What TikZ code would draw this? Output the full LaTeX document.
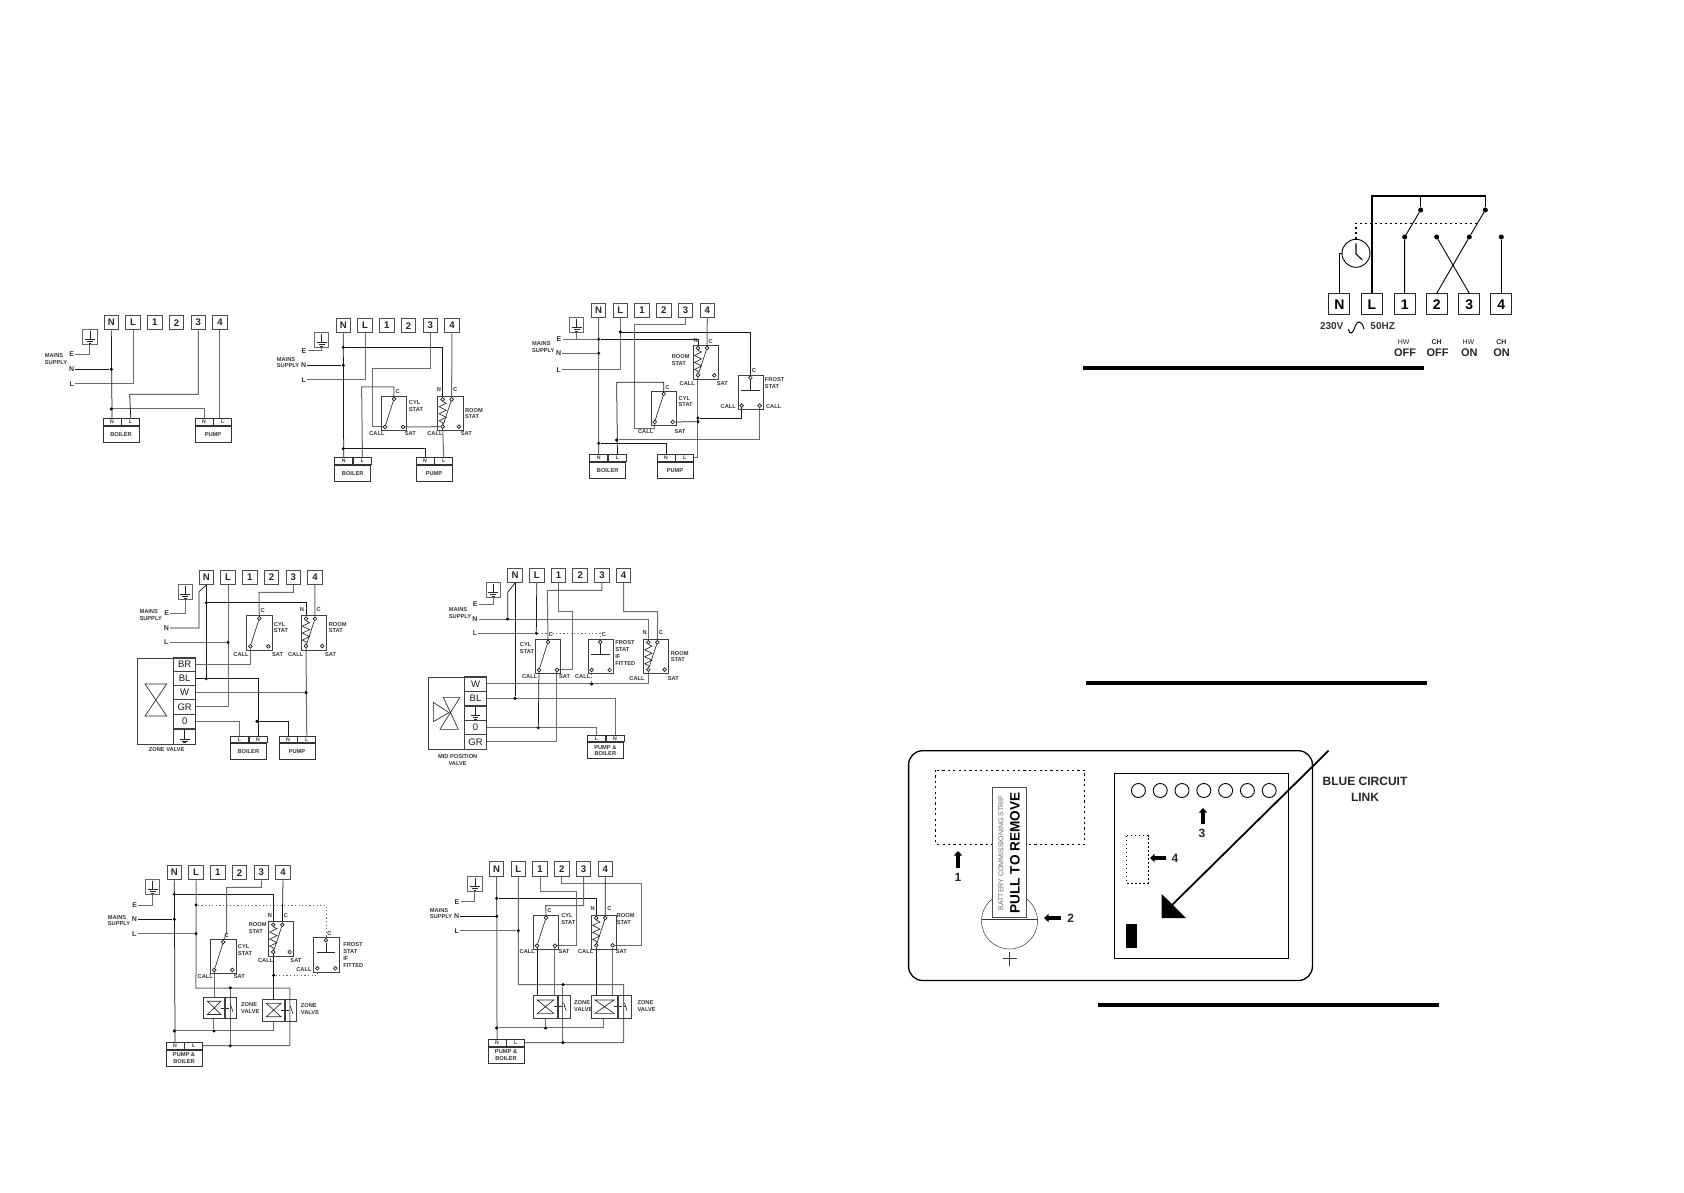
\documentclass[tikz,border=0pt]{standalone}
\usepackage{fontspec}
\setmainfont{Liberation Sans}
\usepackage{tikz}
\usetikzlibrary{arrows.meta,decorations.pathmorphing}
\pgfdeclarelayer{background}
\pgfsetlayers{background,main}
\tikzset{
	termbox/.style={draw=black!70, line width=0.9pt, minimum size=14.5pt, inner sep=0pt,
		font=\fontsize{9.6}{10}\selectfont\bfseries, text=black!85},
	termbig/.style={draw=black!85, line width=1pt, minimum size=21pt, inner sep=0pt,
		font=\fontsize{14}{14}\selectfont\bfseries},
	lab/.style={inner sep=0.5pt, align=left, font=\fontsize{5.7}{6.7}\selectfont\bfseries, text=black!80},
	labm/.style={inner sep=1pt, font=\fontsize{7}{7}\selectfont\bfseries, text=black!80},
	wire/.style={line width=0.75pt, black!90},
	wireg/.style={line width=1pt, black!58},
	wiredot/.style={line width=0.9pt, black!60, dash pattern=on 1.2pt off 2.4pt},
	thinline/.style={line width=0.65pt, black!85},
	dot/.style={circle, fill=black, inner sep=0pt, minimum size=3.4pt},
	contact/.style={circle, draw=black!90, fill=white, line width=0.7pt, inner sep=0pt, minimum size=3.7pt},
	statbox/.style={draw=black!75, line width=0.75pt, anchor=north west, inner sep=0pt,
		minimum width=25.5pt, minimum height=34.2pt},
	cell/.style={draw=black!80, line width=0.75pt, anchor=north west, inner sep=0pt,
		minimum width=18pt, minimum height=6.8pt, font=\fontsize{5.2}{6}\selectfont\bfseries, text=black!80},
	body/.style={cell, minimum width=36pt, minimum height=16pt, align=center,
		font=\fontsize{5.7}{6.7}\selectfont\bfseries},
	vcell/.style={draw=black!75, line width=0.75pt, inner sep=0pt, minimum width=21.7pt, minimum height=14.4pt,
		font=\fontsize{9.5}{9.5}\selectfont, text=black!90},
	fatarrow/.style={line width=3.6pt, -{Triangle[width=8pt,length=4.5pt]}},
	panelnum/.style={inner sep=0pt, font=\fontsize{12}{12}\selectfont\bfseries, text=black!85},
	toptext/.style={inner sep=0pt, font=\fontsize{10}{10}\selectfont\bfseries, text=black!80},
	offon/.style={inner sep=0pt, font=\fontsize{11}{11}\selectfont\bfseries, text=black!85},
	hwch/.style={inner sep=0pt, font=\fontsize{7}{7}\selectfont, text=black!85},
}
\newcommand{\termrow}[3]{%
	\foreach \t [count=\i from 0] in {N,L,1,2,3,4}
		\node[termbox] (#1-\t) at ({#2+\i*65.2},#3) {\t};}
\newcommand{\earthmark}[2]{%
	\draw[thinline] (#1,#2-19) -- (#1,#2+7) (#1-15,#2+7) -- (#1+15,#2+7)
		(#1-9,#2+13) -- (#1+9,#2+13) (#1-4,#2+18) -- (#1+4,#2+18);}
\newcommand{\earthbox}[3]{%
	\node[termbox, draw=black!60] (#1-earth) at (#2,#3) {};
	\earthmark{#2}{#3}}
\newcommand{\cylstat}[3]{%
	\node[statbox] (#1) at (#2,#3) {};
	\node[contact] (#1C) at (#2+39,#3+9) {};
	\node[contact] (#1L) at (#2+12,#3+93) {};
	\node[contact] (#1S) at (#2+66,#3+93) {};
	\draw[thinline] (#1C) -- (#1L);}
\newcommand{\roomstat}[3]{%
	\node[statbox] (#1) at (#2,#3) {};
	\node[contact] (#1N) at (#2+16,#3+10) {};
	\node[contact] (#1C) at (#2+43,#3+10) {};
	\node[contact] (#1L) at (#2+16,#3+92) {};
	\node[contact] (#1S) at (#2+65,#3+92) {};
	\draw[thinline] (#1C) -- (#1L);
	\draw[thinline, decorate, decoration={zigzag,segment length=7pt,amplitude=3.6pt}] (#1N) -- (#1L);}
\newcommand{\froststat}[3]{%
	\node[statbox] (#1) at (#2,#3) {};
	\node[contact] (#1C) at (#2+38,#3+9) {};
	\node[contact] (#1L) at (#2+12,#3+93) {};
	\node[contact] (#1R) at (#2+66,#3+93) {};
	\coordinate (#1T) at (#2+38,#3+46);
	\draw[thinline] (#1C) -- (#1T) (#2+11,#3+46) -- (#2+66,#3+46);}
\newcommand{\loadbox}[6]{%
	\node[cell] (#1-#4) at (#2,#3) {#4};
	\node[cell] (#1-#5) at (#1-#4.north east) {#5};
	\node[body] (#1-body) at (#1-#4.south west) {#6};}
\newcommand{\zonevalve}[6]{%
	\node[statbox, minimum width=#4*0.3333pt, minimum height=#6*0.3333pt] (#1a) at (#2,#3) {};
	\node[statbox, minimum width=#5*0.3333pt, minimum height=#6*0.3333pt] (#1b) at (#1a.north east) {};
	\draw[thinline] (#1a.center) ++({-(#4/2-11)},-20) -- ++({#4-22},0) -- ++({-(#4-22)},40) -- ++({#4-22},0) -- cycle;
	\draw[thinline, densely dashed] (#1a.center) ++({#4/2-11},0) -- (#1b.center);
	\draw[thinline] (#1b.center) ++(-2,-12) -- ++(8,24);}

\begin{document}
\begin{tikzpicture}[x=1pt,y=-1pt]
	\useasboundingbox (0,0) rectangle (1684,1192);

	% boiler and pump, no stats
	\begin{scope}[shift={(30,290)},x=0.3333pt,y=-0.3333pt]
		\termrow{a}{244}{98}
		\earthbox{a}{180}{141}
		\loadbox{aB}{218}{385}{N}{L}{BOILER}
		\loadbox{aP}{494}{385}{N}{L}{PUMP}
		\node[labm] (a-e) at (125,193) {E};
		\node[labm] (a-n) at (125,238) {N};
		\node[labm] (a-l) at (125,281) {L};
		\node[lab] (a-ms) at (78,208) {MAINS\\SUPPLY};
		\node[dot] (ad1) at (244,238) {};
		\node[dot] (ad2) at (244,357) {};
		\coordinate (ak1) at (299,313);
		\begin{pgfonlayer}{background}
			\draw[wireg] (a-e.east) -| (a-earth.south);
			\draw[wire] (a-n.east) -- (ad1);
			\draw[wireg] (a-l.east) -| (a-L.south);
			\draw[wire] (a-N.south) -- (aB-N.north);
			\draw[wireg] (ad2) -| (aP-N.north);
			\draw[wire] (a-3.south) |- (ak1) -- (aB-L.north);
			\draw[wireg] (a-4.south) -- (a-4.south |- aP-L.north);
		\end{pgfonlayer}
	\end{scope}

	% cyl stat and room stat
	\begin{scope}[shift={(30,290)},x=0.3333pt,y=-0.3333pt]
		\termrow{b}{940}{107}
		\earthbox{b}{875}{150}
		\loadbox{bB}{913}{502}{N}{L}{BOILER}
		\loadbox{bP}{1157}{502}{N}{L}{PUMP}
		\cylstat{bc}{1053}{318}
		\roomstat{br}{1222}{318}
		\node[labm] (b-e) at (822,182) {E};
		\node[labm] (b-n) at (821,226) {N};
		\node[labm] (b-l) at (821,269) {L};
		\node[lab] (b-ms) at (774,218) {MAINS\\SUPPLY};
		\node[lab] (b-t1) at (1103,305) {C};
		\node[lab] (b-t2) at (1227,300) {N};
		\node[lab] (b-t3) at (1276,300) {C};
		\node[lab] (b-t4) at (1158,349) {CYL\\STAT};
		\node[lab] (b-t5) at (1332,371) {ROOM\\STAT};
		\node[lab] (b-t6) at (1041,431) {CALL};
		\node[lab] (b-t7) at (1141,431) {SAT};
		\node[lab] (b-t8) at (1215,431) {CALL};
		\node[lab] (b-t9) at (1309,431) {SAT};
		\node[dot] (bd1) at (940,172) {};
		\node[dot] (bd2) at (940,226) {};
		\node[dot] (bd3) at (940,476) {};
		\coordinate (bk1) at (1027,236);
		\coordinate (bk2) at (995,291);
		\begin{pgfonlayer}{background}
			\draw[wireg] (b-e.east) -| (b-earth.south);
			\draw[wire] (b-n.east) -- (bd2);
			\draw[wireg] (b-l.east) -| (b-L.south);
			\draw[wire] (b-N.south) -- (bB-N.north);
			\draw[wire] (bd1) -| (brN);
			\draw[wireg] (b-3.south) |- (bk1) |- (bcL);
			\draw[wireg] (b-4.south) -- (brC);
			\draw[wireg] (bcC) |- (bk2) -- (bB-L.north);
			\draw[wireg] (bcS) -- (brL);
			\draw[wireg] (brL) -- (bP-L.north);
			\draw[wire] (bd3) -| (bP-N.north);
		\end{pgfonlayer}
	\end{scope}

	% cyl, room and frost stat
	\begin{scope}[shift={(510,290)},x=0.3333pt,y=-0.3333pt]
		\termrow{c}{266}{61}
		\earthbox{c}{200}{105}
		\loadbox{cB}{238}{493}{N}{L}{BOILER}
		\loadbox{cP}{440}{493}{N}{L}{PUMP}
		\cylstat{cc}{422}{303}
		\roomstat{cr}{548}{164}
		\froststat{cf}{683}{254}
		\node[labm] (c-e) at (147,148) {E};
		\node[labm] (c-n) at (146,190) {N};
		\node[labm] (c-l) at (146,239) {L};
		\node[lab] (c-ms) at (100,172) {MAINS\\SUPPLY};
		\node[lab] (c-t1) at (557,152) {N};
		\node[lab] (c-t2) at (602,154) {C};
		\node[lab] (c-t3) at (512,210) {ROOM\\STAT};
		\node[lab] (c-t4) at (532,281) {CALL};
		\node[lab] (c-t5) at (637,281) {SAT};
		\node[lab] (c-t6) at (732,243) {C};
		\node[lab] (c-t7) at (794,280) {FROST\\STAT};
		\node[lab] (c-t8) at (655,351) {CALL};
		\node[lab] (c-t9) at (791,351) {CALL};
		\node[lab] (c-t10) at (472,292) {C};
		\node[lab] (c-t11) at (527,335) {CYL\\STAT};
		\node[lab] (c-t12) at (407,426) {CALL};
		\node[lab] (c-t13) at (510,426) {SAT};
		\node[dot] (cd1) at (266,148) {};
		\node[dot] (cd2) at (266,190) {};
		\node[dot] (cd3) at (266,460) {};
		\node[dot] (cd4) at (331,126) {};
		\node[dot] (cd5) at (320,450) {};
		\node[dot] (cd6) at (564,384) {};
		\node[dot] (cd7) at (564,395) {};
		\coordinate (ck1) at (374,104);
		\coordinate (ck2) at (374,416);
		\coordinate (ck3) at (320,277);
		\coordinate (ck4) at (564,503);
		\begin{pgfonlayer}{background}
			\draw[wireg] (c-e.east) -| (c-earth.south);
			\draw[wireg] (c-e.east) -- (cd1);
			\draw[wireg] (c-n.east) -- (cd2);
			\draw[wireg] (c-l.east) -| (c-L.south);
			\draw[wireg] (c-N.south) -- (cB-N.north);
			\draw[wire] (cd1) -| (crN);
			\draw[wire] (cd4) -| (cfC);
			\draw[wireg] (c-4.south) -- (crC);
			\draw[wireg] (c-3.south) |- (ck1) -- (ck2) -| (ccL);
			\draw[wire] (ccC) |- (ck3) -- (cB-L.north);
			\draw[wireg] (cd5) -| (cfR);
			\draw[wire] (ccS) -- (cd7);
			\draw[wire] (cd6) -| (cfL);
			\draw[wireg] (crL) -- (ck4) -- (cP-L.east |- ck4);
			\draw[wire] (cd3) -| (cP-N.north);
		\end{pgfonlayer}
	\end{scope}

	% zone valve
	\begin{scope}[shift={(120,560)},x=0.3333pt,y=-0.3333pt]
		\termrow{d}{259}{52}
		\earthbox{d}{196}{96}
		\loadbox{dB}{330}{527}{L}{N}{BOILER}
		\loadbox{dP}{476}{527}{N}{L}{PUMP}
		\cylstat{dc}{379}{166}
		\roomstat{dr}{542}{166}
		\node[draw=black!75, line width=0.75pt, anchor=north west, minimum width=58pt, minimum height=86.7pt] (d-valve) at (52,293) {};
		\node[vcell] (d-BR) at (194,314) {BR};
		\node[vcell] (d-BL) at (194,356) {BL};
		\node[vcell] (d-W) at (194,398) {W};
		\node[vcell] (d-GR) at (194,441) {GR};
		\node[vcell] (d-0) at (194,485) {0};
		\node[vcell, minimum height=15.4pt] (d-E) at (194,530) {};
		\earthmark{194}{530}
		\draw[thinline] (75,372) -- (140,372) -- (75,468) -- (140,468) -- cycle;
		\node[labm] (d-e) at (140,160) {E};
		\node[labm] (d-n) at (139,204) {N};
		\node[labm] (d-l) at (139,247) {L};
		\node[lab] (d-ms) at (92,165) {MAINS\\SUPPLY};
		\node[lab] (d-t1) at (428,153) {C};
		\node[lab] (d-t2) at (546,148) {N};
		\node[lab] (d-t3) at (596,148) {C};
		\node[lab] (d-t4) at (483,203) {CYL\\STAT};
		\node[lab] (d-t5) at (653,203) {ROOM\\STAT};
		\node[lab] (d-t6) at (363,284) {CALL};
		\node[lab] (d-t7) at (473,284) {SAT};
		\node[lab] (d-t8) at (527,284) {CALL};
		\node[lab] (d-t9) at (632,284) {SAT};
		\node[lab] (d-t10) at (140,570) {ZONE VALVE};
		\node[dot] (dd1) at (259,128) {};
		\node[dot] (dd2) at (259,356) {};
		\node[dot] (dd3) at (324,247) {};
		\node[dot] (dd4) at (411,484) {};
		\node[dot] (dd5) at (558,398) {};
		\coordinate (dk1) at (237,204);
		\coordinate (dk2) at (237,95);
		\coordinate (dk3) at (417,97);
		\begin{pgfonlayer}{background}
			\draw[wireg] (d-e.east) -| (d-earth.south);
			\draw[wire] (d-n.east) -- (dk1) -- (dk2) -- (d-N.south);
			\draw[wireg] (d-l.east) -- (dd3);
			\draw[wireg] (d-L.south) |- (d-GR.east);
			\draw[wire] (d-N.south) -- (dd2);
			\draw[wire] (dd1) -| (drN);
			\draw[wireg] (d-BR.east) -| (dcL);
			\draw[wire] (d-BL.east) -| (dB-N.north);
			\draw[wire] (dd4) -| (dP-N.north);
			\draw[wireg] (d-W.east) -- (dd5);
			\draw[wireg] (drL) -- (dP-L.north);
			\draw[wireg] (d-0.east) -| (dB-L.north);
			\draw[wireg] (d-3.south) |- (dk3) -- (dcC);
			\draw[wireg] (d-4.south) -- (drC);
		\end{pgfonlayer}
	\end{scope}

	% mid position valve
	\begin{scope}[shift={(420,560)},x=0.3333pt,y=-0.3333pt]
		\termrow{e}{285}{46}
		\earthbox{e}{220}{90}
		\loadbox{eB}{501}{524}{L}{N}{PUMP \&\\BOILER}
		\cylstat{ec}{345}{237}
		\froststat{ef}{503}{237}
		\roomstat{er}{669}{237}
		\node[draw=black!75, line width=0.75pt, anchor=north west, minimum width=58pt, minimum height=72.7pt] (e-valve) at (25,350) {};
		\node[vcell] (e-W) at (166.5,372) {W};
		\node[vcell] (e-BL) at (166.5,415) {BL};
		\node[vcell] (e-E) at (166.5,460) {};
		\node[vcell] (e-0) at (166.5,503) {0};
		\node[vcell] (e-GR) at (166.5,546) {GR};
		\earthmark{166.5}{460}
		\draw[thinline] (70,412) -- (120,412) -- (60,508) -- (115,508) -- cycle;
		\draw[thinline] (40,427) -- (40,485) -- (87,458) -- cycle;
		\node[labm] (e-e) at (166,133) {E};
		\node[labm] (e-n) at (165,177) {N};
		\node[labm] (e-l) at (165,220) {L};
		\node[lab] (e-ms) at (120,160) {MAINS\\SUPPLY};
		\node[lab] (e-t1) at (393,223) {C};
		\node[lab] (e-t2) at (321,265) {CYL\\STAT};
		\node[lab] (e-t3) at (329,350) {CALL};
		\node[lab] (e-t4) at (434,350) {SAT};
		\node[lab] (e-t5) at (488,350) {CALL};
		\node[lab] (e-t6) at (552,223) {C};
		\node[lab] (e-t7) at (616,279) {FROST\\STAT\\IF\\FITTED};
		\node[lab] (e-t8) at (674,219) {N};
		\node[lab] (e-t9) at (723,219) {C};
		\node[lab] (e-t10) at (779,290) {ROOM\\STAT};
		\node[lab] (e-t11) at (651,355) {CALL};
		\node[lab] (e-t12) at (760,355) {SAT};
		\node[lab, align=center] (e-t13) at (113,600) {MID POSITION\\VALVE};
		\node[dot] (ed1) at (263,177) {};
		\node[dot] (ed2) at (349,220) {};
		\node[dot] (ed3) at (285,415) {};
		\node[dot] (ed4) at (515,372) {};
		\node[dot] (ed5) at (355,503) {};
		\coordinate (ek1) at (263,97);
		\coordinate (ek2) at (382,91);
		\coordinate (ek3) at (458,155);
		\coordinate (ek4) at (713,155);
		\begin{pgfonlayer}{background}
			\draw[wireg] (e-e.east) -| (e-earth.south);
			\draw[wireg] (e-n.east) -| (erN);
			\draw[wire] (ed1) -- (ek1) -- (e-N.south);
			\draw[wireg] (e-l.east) -- (ed2);
			\draw[wire] (e-L.south) -- (ed2);
			\draw[wiredot] (ed2) -| (efC);
			\draw[wire] (e-N.south) -- (ed3);
			\draw[wireg] (e-BL.east) -| (eB-N.north);
			\draw[wireg] (e-3.south) |- (ek2) -- (ecC);
			\draw[wireg] (e-1.south) |- (ek3) |- (ecS);
			\draw[wireg] (e-4.south) |- (ek4) -- (erC);
			\draw[wireg] (e-W.east) -| (erL);
			\draw[wiredot] (ed4) -- (efL);
			\draw[wireg] (e-0.east) -| (eB-L.north);
			\draw[wire] (ecL) -- (ed5);
			\draw[wireg] (e-GR.east) -| (ecS);
		\end{pgfonlayer}
	\end{scope}

	% two zone valves, frost stat
	\begin{scope}[shift={(100,855)},x=0.3333pt,y=-0.3333pt]
		\termrow{f}{223}{53}
		\earthbox{f}{158}{96}
		\loadbox{fB}{197}{561}{N}{L}{PUMP \&\\BOILER}
		\cylstat{fc}{331}{252}
		\roomstat{fr}{504}{199}
		\froststat{ff}{640}{247}
		\zonevalve{fv}{310}{425}{63}{33}{65}
		\zonevalve{fw}{487}{431}{66}{33}{66}
		\node[labm] (f-e) at (104,150) {E};
		\node[labm] (f-n) at (103,193) {N};
		\node[labm] (f-l) at (103,236) {L};
		\node[lab] (f-ms) at (57,197) {MAINS\\SUPPLY};
		\node[lab] (f-t1) at (510,182) {N};
		\node[lab] (f-t2) at (558,182) {C};
		\node[lab] (f-t3) at (473,219) {ROOM\\STAT};
		\node[lab] (f-t4) at (497,316) {CALL};
		\node[lab] (f-t5) at (588,316) {SAT};
		\node[lab] (f-t6) at (380,242) {C};
		\node[lab] (f-t7) at (435,285) {CYL\\STAT};
		\node[lab] (f-t8) at (316,365) {CALL};
		\node[lab] (f-t9) at (418,365) {SAT};
		\node[lab] (f-t10) at (688,235) {C};
		\node[lab] (f-t11) at (760,300) {FROST\\STAT\\IF\\FITTED};
		\node[lab] (f-t12) at (612,344) {CALL};
		\node[lab] (f-t13) at (451,458) {ZONE\\VALVE};
		\node[lab] (f-t14) at (630,463) {ZONE\\VALVE};
		\node[dot] (fd1) at (223,118) {};
		\node[dot] (fd2) at (223,193) {};
		\node[dot] (fd3) at (223,528) {};
		\node[dot] (fd4) at (288,150) {};
		\node[dot] (fd5) at (288,236) {};
		\node[dot] (fd6) at (391,399) {};
		\node[dot] (fd7) at (391,572) {};
		\node[dot] (fd8) at (521,361) {};
		\node[dot] (fd9) at (342,528) {};
		\coordinate (fk1) at (288,399);
		\coordinate (fk2) at (570,399);
		\coordinate (fk3) at (570,572);
		\coordinate (fk4) at (380,97);
		\coordinate (fk5) at (380,232);
		\coordinate (fk6) at (521,528);
		\begin{pgfonlayer}{background}
			\draw[wireg] (f-e.east) -| (f-earth.south);
			\draw[wire] (f-n.east) -- (fd2);
			\draw[wireg] (f-l.east) -- (fd5);
			\draw[wire] (f-N.south) -- (fB-N.north);
			\draw[wire] (fd1) -| (frN);
			\draw[wireg] (f-L.south) -- (fk1) -- (fk2) -- (fk3) -- (fB-L.east |- fk3);
			\draw[wiredot] (fd4) -| (ffC);
			\draw[wireg] (f-3.south) |- (fk4) -- (fk5) -- (fcC);
			\draw[wire] (f-4.south) -- (frC);
			\draw[wire] (frL) -- (frL |- fwa.north);
			\draw[wiredot] (fd8) -| (ffL);
			\draw[wireg] (fcL) -- (fcL |- fva.north);
			\draw[wireg] (fd6) -- (fd7);
			\draw[wireg] (fd3) -- (fk6) -- (fk6 |- fwa.south);
			\draw[wireg] (fd9) -- (fd9 |- fva.south);
		\end{pgfonlayer}
	\end{scope}

	% two zone valves, no frost stat
	\begin{scope}[shift={(420,855)},x=0.3333pt,y=-0.3333pt]
		\termrow{g}{230}{42}
		\earthbox{g}{165}{87}
		\loadbox{gB}{203}{552}{N}{L}{PUMP \&\\BOILER}
		\cylstat{gc}{339}{179}
		\roomstat{gr}{513}{179}
		\zonevalve{gv}{340}{420}{71}{37}{68}
		\zonevalve{gw}{513}{420}{79}{40}{68}
		\node[labm] (g-e) at (111,140) {E};
		\node[labm] (g-n) at (110,184) {N};
		\node[labm] (g-l) at (110,227) {L};
		\node[lab] (g-ms) at (63,176) {MAINS\\SUPPLY};
		\node[lab] (g-t1) at (518,161) {N};
		\node[lab] (g-t2) at (568,161) {C};
		\node[lab] (g-t3) at (617,193) {ROOM\\STAT};
		\node[lab] (g-t4) at (388,166) {C};
		\node[lab] (g-t5) at (445,193) {CYL\\STAT};
		\node[lab] (g-t6) at (322,291) {CALL};
		\node[lab] (g-t7) at (432,291) {SAT};
		\node[lab] (g-t8) at (497,291) {CALL};
		\node[lab] (g-t9) at (604,291) {SAT};
		\node[lab] (g-t10) at (490,453) {ZONE\\VALVE};
		\node[lab] (g-t11) at (680,453) {ZONE\\VALVE};
		\node[dot] (gd1) at (230,130) {};
		\node[dot] (gd2) at (230,184) {};
		\node[dot] (gd3) at (230,519) {};
		\node[dot] (gd4) at (295,227) {};
		\node[dot] (gd5) at (429,389) {};
		\node[dot] (gd6) at (429,563) {};
		\node[dot] (gd7) at (377,519) {};
		\coordinate (gk1) at (295,389);
		\coordinate (gk2) at (611,389);
		\coordinate (gk3) at (611,563);
		\coordinate (gk4) at (469,108);
		\coordinate (gk5) at (377,152);
		\coordinate (gk6) at (665,86);
		\coordinate (gk7) at (551,519);
		\begin{pgfonlayer}{background}
			\draw[wireg] (g-e.east) -| (g-earth.south);
			\draw[wire] (g-n.east) -- (gd2);
			\draw[wireg] (g-l.east) -- (gd4);
			\draw[wireg] (g-N.south) -- (gB-N.north);
			\draw[wire] (gd1) -| (grN);
			\draw[wireg] (g-L.south) -- (gk1) -- (gk2) -- (gk3) -- (gB-L.east |- gk3);
			\draw[wireg] (g-1.south) |- (gk4) |- (gcS);
			\draw[wireg] (g-3.south) |- (gk5) -- (gcC);
			\draw[wireg] (g-2.south) |- (gk6) |- (grS);
			\draw[wire] (g-4.south) -- (grC);
			\draw[wire] (gcL) -- (gcL |- gva.north);
			\draw[wireg] (gcS) -- (gcS |- gva.north);
			\draw[wire] (grL) -- (grL |- gwa.north);
			\draw[wireg] (grS) -- (grS |- gwa.north);
			\draw[wireg] (gd5) -- (gd6);
			\draw[wireg] (gd3) -- (gk7) -- (gk7 |- gwa.south);
			\draw[wireg] (gd7) -- (gd7 |- gva.south);
		\end{pgfonlayer}
	\end{scope}

	% clock and switches
	\begin{scope}[shift={(1300,180)},x=0.3333pt,y=-0.3333pt]
		\node[termbig] (t-N) at (118,373) {N};
		\node[termbig] (t-L) at (216,373) {L};
		\node[termbig] (t-1) at (314,373) {1};
		\node[termbig] (t-2) at (410,373) {2};
		\node[termbig] (t-3) at (508,373) {3};
		\node[termbig] (t-4) at (604,373) {4};
		\node[circle, draw, line width=0.9pt, inner sep=0pt, minimum size=28pt] (t-clock) at (168,220) {};
		\coordinate (t-hub) at (168,222);
		\coordinate (t-h1) at (168,190);
		\coordinate (t-h2) at (187,240);
		\node[dot, minimum size=5pt] (t-s1) at (362,90) {};
		\node[dot, minimum size=5pt] (t-s2) at (556,90) {};
		\node[dot, minimum size=5pt] (t-c1) at (314,171) {};
		\node[dot, minimum size=5pt] (t-c2) at (410,171) {};
		\node[dot, minimum size=5pt] (t-c3) at (508,171) {};
		\node[dot, minimum size=5pt] (t-c4) at (604,171) {};
		\coordinate (t-k1) at (216,48);
		\coordinate (t-k2) at (556,48);
		\coordinate (t-k3) at (362,48);
		\coordinate (t-k4) at (118,220);
		\coordinate (t-k5) at (168,130);
		\coordinate (t-k6) at (530,130);
		\draw[line width=1.1pt] (t-h1) -- (t-hub) -- (t-h2);
		\draw[line width=1.2pt] (t-L.north) -- (t-k1) -- (t-k2) -- (t-s2);
		\draw[line width=1.5pt] (t-k3) -- (t-s1);
		\draw[line width=0.9pt] (t-s1) -- (t-c1) -- (t-1.north);
		\draw[line width=0.9pt] (t-s2) -- (t-c3) -- (t-2.north);
		\draw[line width=0.9pt] (t-c2) -- (t-3.north);
		\draw[line width=0.9pt] (t-c4) -- (t-4.north);
		\draw[line width=0.9pt] (t-N.north) |- (t-k4) -- (t-clock);
		\draw[line width=1.2pt, dash pattern=on 2pt off 3pt] (t-clock) -- (t-k5) -- (t-k6);
		\node[toptext] (t-volt) at (95,438) {230V};
		\node[toptext] (t-hz) at (248,438) {50HZ};
		\draw[line width=1pt] (145,448) .. controls (150,466) and (158,462) .. (165,440) .. controls (172,420) and (186,420) .. (192,448);
		\node[hwch] (t-l1) at (311,486) {HW};
		\node[hwch, font=\fontsize{7}{7}\selectfont\bfseries] (t-l2) at (410,486) {CH};
		\node[hwch] (t-l3) at (505,486) {HW};
		\node[hwch, font=\fontsize{7}{7}\selectfont\bfseries] (t-l4) at (604,486) {CH};
		\node[offon] (t-o1) at (315,519) {OFF};
		\node[offon] (t-o2) at (413,519) {OFF};
		\node[offon] (t-o3) at (508,519) {ON};
		\node[offon] (t-o4) at (605,519) {ON};
	\end{scope}

	% heavy rules
	\draw[line width=3.8pt] (1083,368) -- (1424,368);
	\draw[line width=3.4pt] (1086,683) -- (1427,683);
	\draw[line width=4.2pt] (1098,1005) -- (1439,1005);

	% front panel
	\draw[line width=1.3pt, rounded corners=14pt] (908.6,750.7) rectangle (1312.4,980.5);
	\draw[line width=0.9pt, dash pattern=on 2.2pt off 3.2pt] (935.5,770) rectangle (1084.7,844);
	\draw[line width=0.5pt, black!80] (1009.5,921) circle (28pt);
	\draw[line width=0.5pt, black!80] (981.5,919.5) -- (1037.5,919.5);
	\fill[white] (992.3,787.3) rectangle (1026.7,917);
	\draw[line width=0.6pt, black!70] (992.3,787.3) rectangle (1026.7,917);
	\node[rotate=90, inner sep=0pt, font=\fontsize{13.6}{13.6}\selectfont\bfseries] (pull) at (1015,853) {PULL TO REMOVE};
	\node[rotate=90, inner sep=0pt, font=\fontsize{7}{7}\selectfont, text=black!60] (strip) at (1001,853) {BATTERY COMMISSIONING STRIP};
	\draw[line width=0.6pt, black!80] (1002.5,958.7) -- (1016.5,958.7) (1009.5,951.7) -- (1009.5,965.7);
	\draw[line width=1pt] (1114.8,773) rectangle (1288.8,958);
	\foreach \i in {0,...,6}
		\draw[line width=0.9pt] ({1138.4+\i*21.8},790.5) circle (7pt);
	\draw[line width=0.7pt, dash pattern=on 1.6pt off 2.4pt] (1126.6,835.5) rectangle (1148,883);
	\fill (1125.5,923.6) rectangle (1137.4,948.3);
	\draw[line width=1.8pt] (1328.5,750.7) -- (1172,905);
	\fill (1161.7,894) -- (1161.7,918) -- (1186,918) -- cycle;
	\draw[fatarrow] (958,868) -- (958,851);
	\node[panelnum] (num1) at (958,877) {1};
	\draw[fatarrow] (1061,918) -- (1044,918);
	\node[panelnum] (num2) at (1070.8,918) {2};
	\draw[fatarrow] (1203,824) -- (1203,808);
	\node[panelnum] (num3) at (1202,833) {3};
	\draw[fatarrow] (1166,858) -- (1150,858);
	\node[panelnum] (num4) at (1175,858) {4};
	\node[inner sep=0pt, align=center, font=\fontsize{12}{16}\selectfont\bfseries, text=black!85] (link) at (1365,789) {BLUE CIRCUIT\\LINK};
\end{tikzpicture}
\end{document}
